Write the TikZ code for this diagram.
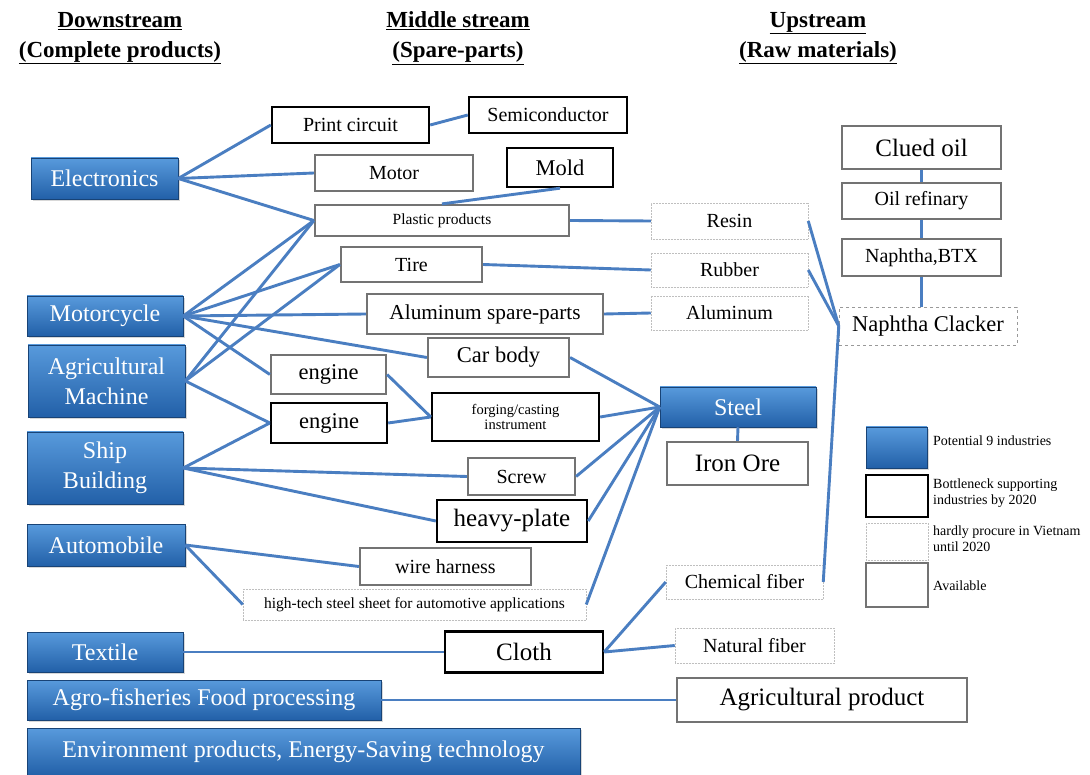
\documentclass[tikz,border=0pt]{standalone}
\usepackage{fontspec}
\setmainfont{Liberation Serif}
\usetikzlibrary{shadows}
\definecolor{indtop}{RGB}{88,154,220}
\definecolor{indbot}{RGB}{34,96,168}
\definecolor{linkblue}{RGB}{74,126,193}

\begin{document}
\begin{tikzpicture}[x=1pt,y=-1pt]
	\tikzstyle{indus}=[shape=rectangle,draw=indbot!70!black,line width=0.5,top color=indtop,bottom color=indbot,text=white,align=center,font=\fontsize{24}{30}\selectfont,drop shadow={opacity=0.3,shadow xshift=2pt,shadow yshift=-2pt}]
	\tikzstyle{bneck}=[shape=rectangle,draw=black,line width=2.4,fill=white]
	\tikzstyle{avail}=[shape=rectangle,draw=black!55,line width=2.2,fill=white]
	\tikzstyle{hardly}=[shape=rectangle,draw=black!25,densely dotted,line width=0.5,fill=white]
	\tikzstyle{link}=[draw=linkblue,line width=2.9]
	\tikzstyle{head}=[align=center,font=\bfseries\fontsize{23}{30}\selectfont]
	\tikzstyle{legtxt}=[anchor=west,align=left,inner sep=0,font=\fontsize{14}{16}\selectfont]
	\tikzstyle{t14}=[font=\fontsize{14.5}{15.5}\selectfont]
	\tikzstyle{t15}=[font=\fontsize{15.5}{17}\selectfont]
	\tikzstyle{t20}=[font=\fontsize{20}{22}\selectfont]
	\tikzstyle{t21}=[font=\fontsize{21.3}{23}\selectfont]
	\tikzstyle{t22}=[font=\fontsize{22.5}{24}\selectfont]
	\tikzstyle{t25}=[font=\fontsize{25}{27}\selectfont]

	\useasboundingbox (0,0) rectangle (1090,775);
	\fill[white] (0,0) rectangle (1090,775);

	%%% headings
	\node (hdown) at (120,38) [head] {\underline{Downstream}\\\underline{(Complete products)}};
	\node (hmid) at (458,38) [head] {\underline{Middle stream}\\\underline{(Spare-parts)}};
	\node (hup) at (818,38) [head] {\underline{Upstream}\\\underline{(Raw materials)}};

	%%% downstream
	\node (elec) at (104.5,178.5) [indus,minimum width=147,minimum height=41] {Electronics};
	\node (moto) at (105,316) [indus,minimum width=156,minimum height=40] {Motorcycle};
	\node (agri) at (106.5,381) [indus,minimum width=157,minimum height=72] {Agricultural\\Machine};
	\node (ship) at (105,468) [indus,minimum width=156,minimum height=72] {Ship\\Building};
	\node (auto) at (106,545) [indus,minimum width=158,minimum height=42] {Automobile};
	\node (texl) at (105,652) [indus,minimum width=156,minimum height=40] {Textile};
	\node (food) at (204,700) [indus,minimum width=354,minimum height=40] {Agro-fisheries Food processing};
	\node (envi) at (303.5,752) [indus,minimum width=553,minimum height=48] {Environment products, Energy-Saving technology};

	%%% middle stream
	\node (pcb) at (350.5,125) [bneck,t20,minimum width=157,minimum height=36] {Print circuit};
	\node (semi) at (548,115) [bneck,t20,minimum width=158,minimum height=36] {Semiconductor};
	\node (motor) at (394,173) [avail,t20,minimum width=158,minimum height=36] {Motor};
	\node (mold) at (560,167.5) [bneck,t22,minimum width=106,minimum height=39] {Mold};
	\node (plas) at (442,220.5) [avail,t15,minimum width=254,minimum height=31] {Plastic products};
	\node (tire) at (411.5,264.5) [avail,t20,minimum width=141,minimum height=35] {Tire};
	\node (alsp) at (485,314) [avail,t21,minimum width=236,minimum height=40] {Aluminum spare-parts};
	\node (body) at (498.5,357.5) [avail,t22,minimum width=141,minimum height=39] {Car body};
	\node (eng1) at (328.5,374.5) [avail,t22,minimum width=115,minimum height=39] {engine};
	\node (eng2) at (329,423) [bneck,t22,minimum width=116,minimum height=40] {engine};
	\node (forg) at (515.5,417) [bneck,t14,align=center,minimum width=167,minimum height=48] {forging/casting\\instrument};
	\node (screw) at (521.5,476.5) [avail,t20,minimum width=107,minimum height=37] {Screw};
	\node (plate) at (512,521) [bneck,t25,minimum width=150,minimum height=42] {heavy-plate};
	\node (wire) at (445.5,566.5) [avail,t20,minimum width=171,minimum height=37] {wire harness};
	\node (sheet) at (414.5,604.5) [hardly,t15,minimum width=343,minimum height=31] {high-tech steel sheet for automotive applications};
	\node (cloth) at (524,652) [bneck,t25,minimum width=158,minimum height=41] {Cloth};

	%%% upstream
	\node (resin) at (729.5,221) [hardly,t20,minimum width=157,minimum height=36] {Resin};
	\node (rubb) at (729.5,270) [hardly,t20,minimum width=157,minimum height=34] {Rubber};
	\node (alum) at (729.5,313) [hardly,t20,minimum width=157,minimum height=34] {Aluminum};
	\node (steel) at (738,407) [indus,minimum width=156,minimum height=40] {Steel};
	\node (iron) at (737.5,463.5) [avail,t25,minimum width=141,minimum height=43] {Iron Ore};
	\node (chem) at (744.5,582) [hardly,t20,minimum width=157,minimum height=34] {Chemical fiber};
	\node (natu) at (754.5,645.5) [hardly,t20,minimum width=159,minimum height=35] {Natural fiber};
	\node (agpr) at (822,700) [avail,t25,minimum width=290,minimum height=44] {Agricultural product};
	\node (crude) at (921.5,147.5) [avail,t25,minimum width=159,minimum height=43] {Clued oil};
	\node (refi) at (921.5,201) [avail,t20,minimum width=159,minimum height=36] {Oil refinary};
	\node (btx) at (921.5,257.5) [avail,t20,minimum width=159,minimum height=37] {Naphtha,BTX};
	\node (crack) at (928,326) [hardly,dashed,draw=black!40,t22,minimum width=178,minimum height=38] {Naphtha Clacker};

	%%% legend
	\node (lg1) at (896.5,447.5) [indus,minimum width=61,minimum height=41] {};
	\node (lg2) at (897,496) [bneck,minimum width=62,minimum height=42] {};
	\node (lg3) at (897,541.5) [hardly,minimum width=62,minimum height=37] {};
	\node (lg4) at (897,585) [avail,minimum width=62,minimum height=44] {};
	\node (lt1) at (933,441) [legtxt] {Potential 9 industries};
	\node (lt2) at (933,493) [legtxt] {Bottleneck supporting\\industries by 2020};
	\node (lt3) at (933,539) [legtxt] {hardly procure in Vietnam\\until 2020};
	\node (lt4) at (933,586) [legtxt] {Available};

	%%% electronics
	\draw[link] (elec.east) -- (pcb.west);
	\draw[link] (elec.east) -- (motor.west);
	\draw[link] (elec.east) -- (plas.west);
	\draw[link] (pcb.east) -- (semi.west);
	\draw[link] (mold.south) -- (plas.north);

	%%% motorcycle, agricultural machine
	\draw[link] (moto.east) -- (plas.west);
	\draw[link] (moto.east) -- (tire.west);
	\draw[link] (moto.east) -- (alsp.west);
	\draw[link] (moto.east) -- (body.west);
	\draw[link] (moto.east) -- (eng1.west);
	\draw[link] (agri.east) -- (plas.west);
	\draw[link] (agri.east) -- (tire.west);
	\draw[link] (agri.east) -- (eng2.west);
	\draw[link] (eng1.east) -- (forg.west);
	\draw[link] (eng2.east) -- (forg.west);

	%%% ship building, automobile
	\draw[link] (ship.east) -- (eng2.west);
	\draw[link] (ship.east) -- (screw.west);
	\draw[link] (ship.east) -- (plate.west);
	\draw[link] (auto.east) -- (wire.west);
	\draw[link] (auto.east) -- (sheet.west);

	%%% textile, food
	\draw[link] (texl.east) -- (cloth.west);
	\draw[link] (cloth.east) -- (chem.west);
	\draw[link] (cloth.east) -- (natu.west);
	\draw[link] (food.east) -- (agpr.west);

	%%% raw materials
	\draw[link] (plas.east) -- (resin.west);
	\draw[link] (tire.east) -- (rubb.west);
	\draw[link] (alsp.east) -- (alum.west);
	\draw[link] (body.east) -- (steel.west);
	\draw[link] (forg.east) -- (steel.west);
	\draw[link] (screw.east) -- (steel.west);
	\draw[link] (plate.east) -- (steel.west);
	\draw[link] (sheet.east) -- (steel.west);
	\draw[link] (steel.south) -- (iron.north);
	\draw[link] (crude.south) -- (refi.north);
	\draw[link] (refi.south) -- (btx.north);
	\draw[link] (btx.south) -- (btx.south |- crack.north);
	\draw[link] (resin.east) -- (crack.west);
	\draw[link] (rubb.east) -- (crack.west);
	\draw[link] (crack.west) -- (chem.east);
\end{tikzpicture}
\end{document}
